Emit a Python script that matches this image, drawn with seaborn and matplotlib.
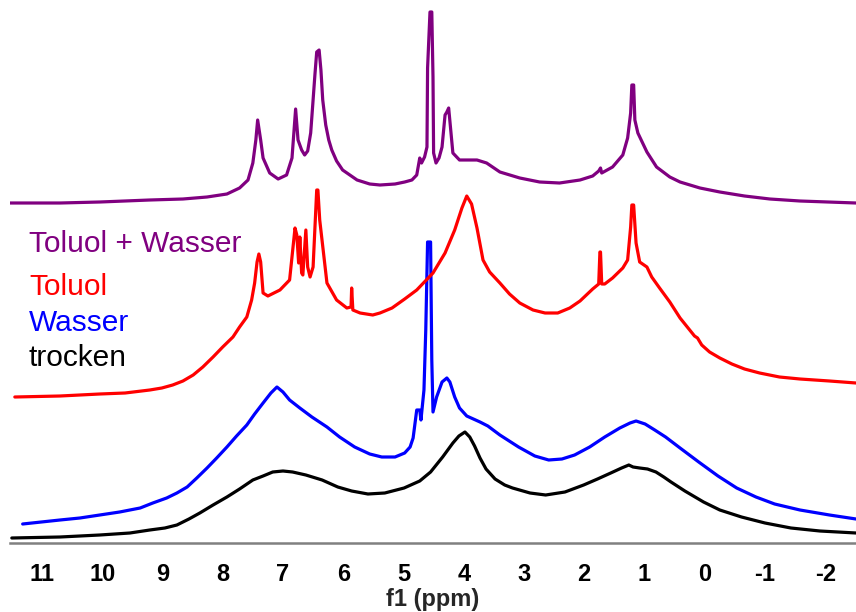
import numpy as np
import pandas as pd
import matplotlib
matplotlib.use("Agg")
import matplotlib.pyplot as plt
from matplotlib.font_manager import FontProperties
import seaborn as sns

sns.set_theme(style="white")
plt.rcParams["font.family"] = ["Liberation Sans", "DejaVu Sans"]

# ---- 1H spectra: chemical shift (ppm) and signal intensity (a.u.) ----
trocken_ppm = [11.50, 10.70, 10.04, 9.54, 9.21, 8.96, 8.76, 8.56, 8.38, 8.16,
               7.93, 7.72, 7.50, 7.33, 7.17, 7.00, 6.84, 6.62, 6.35, 6.09,
               5.86, 5.59, 5.31, 4.99, 4.73, 4.55, 4.35, 4.18, 4.08, 3.98,
               3.90, 3.82, 3.73, 3.63, 3.48, 3.32, 3.19, 2.90, 2.64, 2.32,
               2.01, 1.78, 1.56, 1.38, 1.26, 1.19, 1.08, 0.95, 0.81, 0.68,
               0.56, 0.33, 0.02, -0.25, -0.61, -1.00, -1.43, -1.91, -2.51]
trocken_int = [0, 1, 3, 5, 8, 10, 13, 19, 25, 33,
               41, 49, 58, 62, 66, 67, 66, 63, 58, 51,
               47, 44, 45, 50, 57, 66, 81, 95, 102, 106,
               101, 92, 80, 69, 59, 53, 50, 45, 43, 46,
               53, 59, 65, 70, 73, 71, 70, 69, 66, 61,
               56, 47, 36, 28, 21, 15, 10, 7, 5]

wasser_ppm = [11.32, 10.70, 10.37, 10.04, 9.71, 9.37, 9.16, 8.93, 8.76, 8.59,
              8.43, 8.26, 8.10, 7.93, 7.77, 7.60, 7.47, 7.33, 7.20, 7.10,
              7.00, 6.89, 6.72, 6.52, 6.27, 6.06, 5.81, 5.56, 5.36, 5.14,
              4.98, 4.89, 4.84, 4.78, 4.73, 4.71, 4.66, 4.63, 4.60, 4.55,
              4.53, 4.51, 4.45, 4.36, 4.28, 4.23, 4.15, 4.07, 3.95, 3.73,
              3.60, 3.40, 3.09, 2.82, 2.59, 2.37, 2.16, 1.91, 1.66, 1.41,
              1.24, 1.14, 0.99, 0.83, 0.65, 0.41, 0.10, -0.22, -0.53, -0.85,
              -1.16, -1.58, -2.07, -2.51]
wasser_int = [0, 4, 6, 9, 12, 16, 21, 26, 31, 37,
              46, 56, 66, 77, 88, 99, 110, 121, 131, 137,
              132, 124, 116, 107, 97, 87, 77, 70, 67, 67,
              71, 77, 86, 114, 114, 104, 134, 194, 282, 282,
              164, 112, 127, 142, 146, 142, 127, 116, 108, 102,
              98, 89, 77, 68, 64, 65, 69, 77, 87, 96,
              101, 103, 100, 94, 87, 76, 62, 48, 36, 27,
              20, 14, 9, 5]

toluol_ppm = [11.45, 10.70, 10.04, 9.62, 9.21, 9.01, 8.83, 8.66, 8.49, 8.33,
              8.16, 8.00, 7.83, 7.72, 7.60, 7.52, 7.47, 7.43, 7.40, 7.37,
              7.33, 7.25, 7.05, 6.89, 6.80, 6.77, 6.74, 6.72, 6.69, 6.67,
              6.62, 6.59, 6.55, 6.50, 6.44, 6.42, 6.39, 6.27, 6.11, 5.94,
              5.87, 5.86, 5.84, 5.72, 5.51, 5.39, 5.19, 4.98, 4.78, 4.51,
              4.31, 4.15, 4.03, 3.95, 3.87, 3.78, 3.68, 3.57, 3.40, 3.24,
              3.07, 2.85, 2.65, 2.44, 2.24, 2.07, 1.86, 1.76, 1.74, 1.73,
              1.71, 1.66, 1.53, 1.36, 1.28, 1.23, 1.21, 1.18, 1.14, 1.08,
              0.96, 0.88, 0.75, 0.58, 0.41, 0.25, 0.17, 0.12, 0.05, -0.08,
              -0.25, -0.45, -0.66, -0.91, -1.24, -1.58, -2.07, -2.51]
toluol_int = [0, 1, 3, 4, 7, 9, 12, 16, 22, 30,
              40, 50, 60, 70, 80, 97, 114, 135, 143, 135,
              104, 101, 107, 117, 169, 162, 134, 160, 124, 122,
              167, 130, 120, 130, 207, 207, 177, 114, 97, 89,
              90, 109, 87, 84, 82, 84, 89, 98, 107, 124,
              144, 167, 189, 201, 193, 169, 137, 125, 114, 103,
              94, 87, 84, 84, 89, 96, 108, 113, 145, 145,
              113, 113, 119, 129, 137, 170, 192, 192, 154, 135,
              130, 120, 109, 95, 79, 67, 61, 59, 52, 45,
              39, 33, 28, 24, 20, 18, 16, 14]

toluol_wasser_ppm = [11.53, 10.70, 10.04, 9.21, 8.66, 8.26, 7.93, 7.72, 7.58, 7.50,
                     7.45, 7.42, 7.37, 7.33, 7.22, 7.08, 6.94, 6.85, 6.79, 6.75,
                     6.69, 6.64, 6.59, 6.54, 6.50, 6.47, 6.44, 6.40, 6.37, 6.34,
                     6.29, 6.24, 6.19, 6.11, 6.01, 5.77, 5.56, 5.39, 5.14, 4.98,
                     4.86, 4.78, 4.73, 4.70, 4.65, 4.61, 4.60, 4.56, 4.53, 4.51,
                     4.50, 4.46, 4.41, 4.36, 4.31, 4.28, 4.25, 4.18, 4.07, 3.78,
                     3.62, 3.40, 3.07, 2.74, 2.41, 2.07, 1.86, 1.76, 1.73, 1.71,
                     1.53, 1.36, 1.28, 1.23, 1.21, 1.18, 1.16, 1.11, 0.96, 0.80,
                     0.58, 0.41, 0.08, -0.25, -0.66, -1.08, -1.58, -2.51]
toluol_wasser_int = [0, 0, 1, 3, 4, 6, 9, 15, 23, 40,
                     63, 83, 63, 45, 30, 24, 28, 45, 94, 63,
                     53, 48, 52, 70, 103, 128, 151, 153, 133, 103,
                     78, 63, 53, 42, 33, 23, 19, 18, 19, 21,
                     23, 28, 45, 40, 46, 56, 135, 191, 191, 126,
                     50, 40, 45, 56, 88, 91, 95, 50, 43, 43,
                     40, 31, 25, 21, 20, 23, 27, 32, 35, 30,
                     36, 48, 65, 90, 118, 118, 83, 70, 51, 36,
                     26, 21, 15, 11, 7, 4, 2, 0]

sample_names = ["trocken", "Wasser", "Toluol", "Toluol + Wasser"]
sample_colors = ["#000000", "#0000ff", "#ff0000", "#800080"]
stack_offsets = [5, 19, 146, 340]

tick_values = [11, 10, 9, 8, 7, 6, 5, 4, 3, 2, 1, 0, -1, -2]
tick_labels = ["11", "10", "9", "8", "7", "6", "5", "4", "3", "2", "1", "0", "-1", "-2"]

spectra = {
    "trocken": (trocken_ppm, trocken_int),
    "Wasser": (wasser_ppm, wasser_int),
    "Toluol": (toluol_ppm, toluol_int),
    "Toluol + Wasser": (toluol_wasser_ppm, toluol_wasser_int),
}

W, H = 856, 612
fig = plt.figure(figsize=(W / 100, H / 100), dpi=100)
ax = fig.add_axes([10 / W, 69 / H, 846 / W, 543 / H])

for name, color, off in zip(sample_names, sample_colors, stack_offsets):
    ppm, inten = spectra[name]
    df = pd.DataFrame({"ppm": ppm, "signal": np.asarray(inten, dtype=float) + off})
    sns.lineplot(data=df, x="ppm", y="signal", ax=ax, color=color,
                 linewidth=2.3, estimator=None, sort=False)
for line in ax.get_lines():
    line.set_solid_joinstyle("round")

ax.set_xlim(11.53, -2.51)
ax.set_ylim(0, 543)
ax.set_xlabel("")
ax.set_ylabel("")
ax.set_yticks([])
for side in ("left", "top", "right"):
    ax.spines[side].set_visible(False)
ax.spines["bottom"].set_color("#808080")
ax.spines["bottom"].set_linewidth(1.8)

tick_font = FontProperties(family=["Liberation Sans Narrow", "Liberation Sans"],
                           weight="bold", size=17)
label_map = dict(zip(tick_values, tick_labels))
major = np.arange(-2.5, 11.51, 0.5)
ax.set_xticks(major)
ax.set_xticklabels([label_map.get(int(v), "") if float(v).is_integer() else "" for v in major],
                   fontproperties=tick_font)
ax.set_xticks(np.arange(-2.5, 11.51, 0.25), minor=True)
ax.tick_params(axis="x", which="major", direction="out", length=4.5, width=1.2,
               color="#505050", pad=10, labelcolor="black")
ax.tick_params(axis="x", which="minor", direction="out", length=2.5, width=1.2,
               color="#505050")

fig.text(433 / W, (H - 606) / H, "f1 (ppm)", ha="center", va="baseline",
         fontproperties=tick_font)

legend_rows = [("Toluol + Wasser", "#800080", 252), ("Toluol", "#ff0000", 295),
               ("Wasser", "#0000ff", 331), ("trocken", "#000000", 366)]
for text, color, base in legend_rows:
    fig.text(29 / W, (H - base) / H, text, color=color, fontsize=21.5,
             ha="left", va="baseline", family=["Liberation Sans", "DejaVu Sans"])

fig.savefig("out.png", dpi=100, facecolor="white")
